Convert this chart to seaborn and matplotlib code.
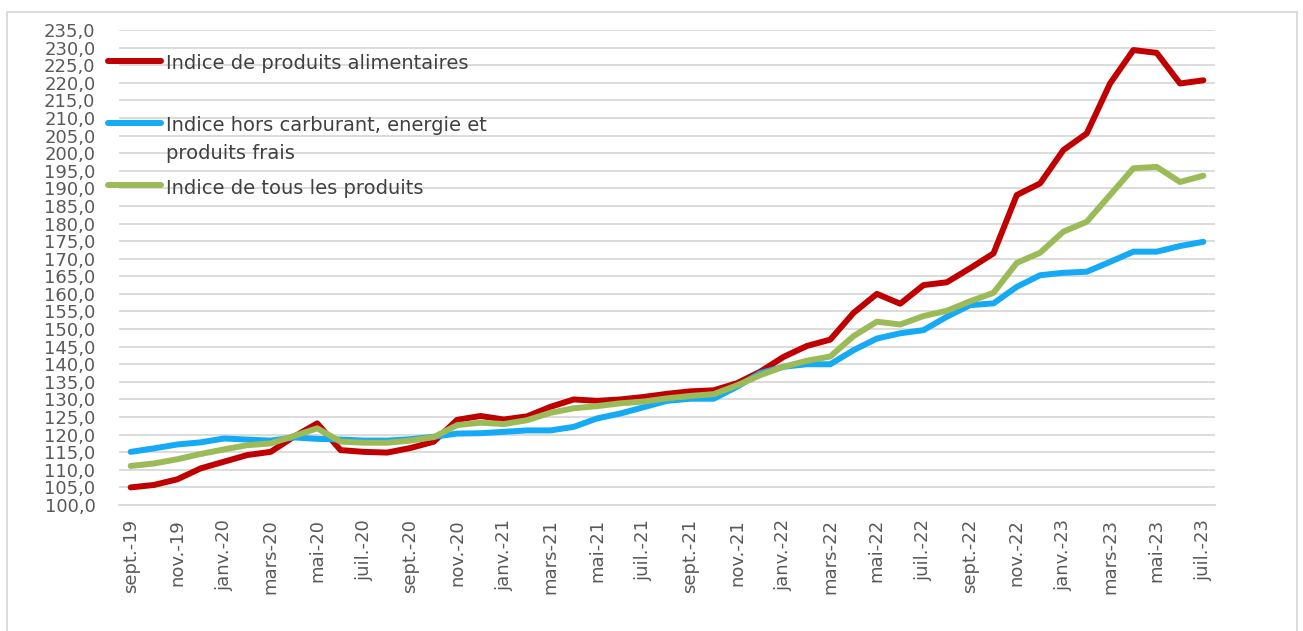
import numpy as np
import pandas as pd
import matplotlib
matplotlib.use("Agg")
import matplotlib.pyplot as plt
from matplotlib.patches import Rectangle
import seaborn as sns

# ── Data ─────────────────────────────────────────────────────────
mois = [
    "sept.-19", "oct.-19", "nov.-19", "déc.-19",
    "janv.-20", "févr.-20", "mars-20", "avr.-20", "mai-20", "juin-20",
    "juil.-20", "août-20", "sept.-20", "oct.-20", "nov.-20", "déc.-20",
    "janv.-21", "févr.-21", "mars-21", "avr.-21", "mai-21", "juin-21",
    "juil.-21", "août-21", "sept.-21", "oct.-21", "nov.-21", "déc.-21",
    "janv.-22", "févr.-22", "mars-22", "avr.-22", "mai-22", "juin-22",
    "juil.-22", "août-22", "sept.-22", "oct.-22", "nov.-22", "déc.-22",
    "janv.-23", "févr.-23", "mars-23", "avr.-23", "mai-23", "juin-23",
    "juil.-23",
]

alimentaires = [
    105.0, 105.7, 107.3, 110.4, 112.3, 114.2, 115.1, 119.4, 123.2, 115.6,
    115.1, 114.9, 116.2, 118.0, 124.2, 125.3, 124.3, 125.2, 127.9, 130.0,
    129.6, 130.0, 130.7, 131.6, 132.3, 132.6, 134.6, 137.9, 142.1, 145.2,
    147.0, 154.6, 160.0, 157.2, 162.5, 163.3, 167.3, 171.5, 188.1, 191.4,
    200.9, 205.6, 219.8, 229.3, 228.5, 219.8, 220.7,
]

hors_carburant = [
    115.1, 116.1, 117.2, 117.8, 118.9, 118.6, 118.3, 119.2, 118.8, 118.6,
    118.3, 118.3, 118.7, 119.4, 120.3, 120.4, 120.8, 121.2, 121.2, 122.2,
    124.6, 126.0, 127.8, 129.6, 130.2, 130.2, 133.6, 137.5, 139.3, 140.0,
    140.0, 144.0, 147.3, 148.8, 149.7, 153.5, 156.8, 157.3, 162.0, 165.3,
    166.0, 166.3, 169.1, 172.0, 172.0, 173.6, 174.8,
]

tous_produits = [
    111.1, 111.8, 113.0, 114.5, 115.8, 117.0, 117.5, 119.6, 121.8, 118.0,
    117.7, 117.7, 118.3, 119.3, 122.7, 123.4, 123.0, 124.1, 126.2, 127.5,
    128.1, 128.9, 129.4, 130.3, 131.0, 131.5, 134.0, 136.9, 139.3, 141.0,
    142.2, 148.0, 152.1, 151.3, 153.7, 155.2, 157.9, 160.3, 168.8, 171.7,
    177.7, 180.5, 188.1, 195.7, 196.1, 191.8, 193.6,
]

series = [
    "Indice de produits alimentaires",
    "Indice hors carburant, energie et\nproduits frais",
    "Indice de tous les produits",
]
colors = ["#C00000", "#14AAF5", "#9BBB59"]

df = pd.DataFrame({
    "pos": list(range(len(mois))) * 3,
    "valeur": alimentaires + hors_carburant + tous_produits,
    "serie": [series[0]] * len(mois) + [series[1]] * len(mois) + [series[2]] * len(mois),
})

# ── Figure ───────────────────────────────────────────────────────
sns.set_style("white")
plt.rcParams["font.family"] = ["DejaVu Sans"]

W, H = 1303, 631
fig = plt.figure(figsize=(W / 100, H / 100), dpi=100)
ax = fig.add_axes([119 / W, 1 - 505 / H, (1215 - 119) / W, (505 - 30) / H])

sns.lineplot(
    data=df, x="pos", y="valeur", hue="serie", hue_order=series,
    palette=colors, linewidth=4.3, ax=ax, legend=False,
    solid_capstyle="round", solid_joinstyle="round",
)

# axes
ax.set_xlim(-0.5, len(mois) - 0.5)
ax.set_ylim(100, 235)
yt = np.arange(100, 236, 5)
ax.set_yticks(yt)
ax.set_yticklabels([f"{v:.1f}".replace(".", ",") for v in yt])
ax.yaxis.grid(True, color="#D9D9D9", linewidth=1.3)
ax.set_axisbelow(True)

ax.set_xticks(range(0, len(mois), 2))
ax.set_xticklabels(mois[::2], rotation=90)
ax.set_xticks(np.arange(-0.5, len(mois) - 1, 2), minor=True)
ax.tick_params(axis="x", which="major", length=0, pad=10, labelsize=13, colors="#595959")
ax.tick_params(axis="x", which="minor", length=6, width=1.3, color="#D9D9D9")
ax.tick_params(axis="y", length=0, pad=17, labelsize=13, colors="#595959")
ax.set_xlabel("")
ax.set_ylabel("")

for s in ["top", "right", "left"]:
    ax.spines[s].set_visible(False)
ax.spines["bottom"].set_color("#D9D9D9")
ax.spines["bottom"].set_linewidth(1.3)

# legend : every entry gets two text lines so the rows are evenly spaced
leg_labels = [series[0] + "\n", series[1], series[2] + "\n"]
leg = ax.legend(
    ax.get_lines()[:3], leg_labels,
    loc="upper left", bbox_to_anchor=(108 / W, 1 - 54 / H),
    bbox_transform=fig.transFigure, frameon=False, fontsize=14,
    handlelength=2.7, handletextpad=0.26, labelspacing=0.82,
    borderpad=0, borderaxespad=0,
)
for t in leg.get_texts():
    t.set_color("#404040")
    t.set_linespacing(1.56)
for col in leg._legend_handle_box.get_children():
    for row in col.get_children():
        row.align = "top"

# outer frame
fig.patches.append(Rectangle(
    (7 / W, -0.05), (1297 - 7) / W, 1.05 - 12 / H,
    transform=fig.transFigure, fill=False, edgecolor="#D9D9D9", linewidth=1.3,
))

fig.savefig("out.png", dpi=100)
